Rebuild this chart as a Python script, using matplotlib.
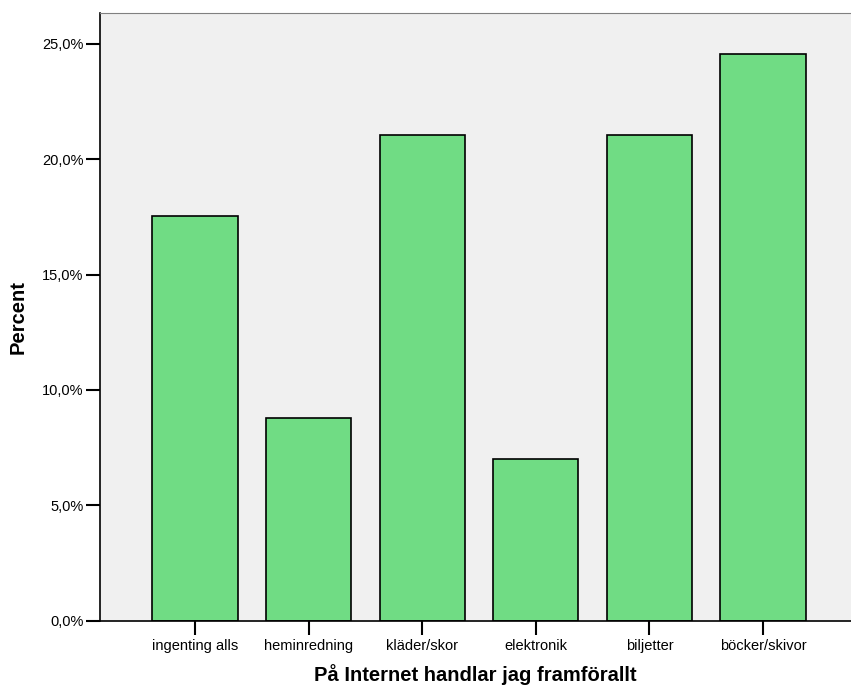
import matplotlib.pyplot as plt
from matplotlib.ticker import FuncFormatter

plt.rcParams['font.family'] = ['Liberation Sans', 'DejaVu Sans']

# Data
categories = ['ingenting alls', 'heminredning', 'kläder/skor',
              'elektronik', 'biljetter', 'böcker/skivor']
percent = [17.54, 8.77, 21.05, 7.02, 21.05, 24.56]
y_ticks = [0, 5, 10, 15, 20, 25]

fig = plt.figure(figsize=(8.51, 6.88), dpi=100)
ax = fig.add_axes([0.1175, 0.0978, 0.8825, 0.8833])
ax.set_facecolor('#f0f0f0')

x = range(len(categories))
ax.bar(x, percent, width=0.75, color='#70dc84', edgecolor='black', linewidth=1.2, zorder=2)

ax.set_xlim(-0.836, 5.775)
ax.set_ylim(0, 26.33)
ax.set_xticks(list(x))
ax.set_xticklabels(categories, fontsize=10.5)
ax.set_yticks(y_ticks)
ax.yaxis.set_major_formatter(FuncFormatter(lambda v, p: f'{v:.1f}%'.replace('.', ',')))
ax.tick_params(axis='y', labelsize=10.5, length=10, width=1.5, pad=2)
ax.tick_params(axis='x', length=10, width=1.5, pad=3)

ax.spines['right'].set_visible(False)
ax.spines['top'].set_color('#808080')
ax.spines['left'].set_linewidth(1.2)
ax.spines['bottom'].set_linewidth(1.2)

ax.set_xlabel('På Internet handlar jag framförallt', fontsize=14.5, fontweight='bold', labelpad=8)
ax.set_ylabel('Percent', fontsize=14.5, fontweight='bold', labelpad=10)

fig.savefig('out.png', dpi=100)
